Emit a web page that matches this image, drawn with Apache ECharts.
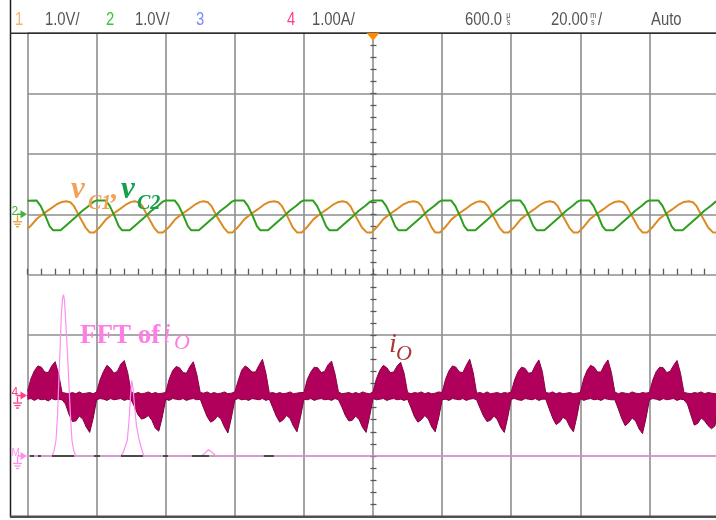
<!DOCTYPE html>
<html><head><meta charset="utf-8">
<script src="https://cdn.jsdelivr.net/npm/echarts@6/dist/echarts.min.js"></script>
<style>html,body{margin:0;padding:0;background:#fff}#c{width:716px;height:520px}</style>
</head><body><div id="c"></div>
<script>
// ---- time axis (ms), 20 ms/div, 10 divisions ----
const timeTicksMs = [0,20,40,60,80,100,120,140,160,180,200];
const voltTicksDiv = [-4,-3,-2,-1,0,1,2,3,4];

// vC1 (V, deviation around its channel marker) : [t ms, value]
const vC1 = [
[0,-0.24],[0.8,-0.20],[2.8,-0.07],[4.6,0.01],[6.6,0.09],[8.6,0.17],[10.0,0.205],[11.2,0.215],[12.4,0.20],[13.4,0.14],[15.2,-0.055],[16.8,-0.22],[18.0,-0.30],[19.4,-0.30],
[20.8,-0.22],[22.8,-0.08],[24.6,0.0],[26.6,0.08],[28.6,0.165],[30.0,0.205],[31.0,0.215],[32.2,0.20],[33.2,0.14],[35.0,-0.055],[36.6,-0.22],[37.8,-0.30],[39.2,-0.30],
[40.8,-0.22],[42.8,-0.08],[44.6,0.0],[46.6,0.08],[48.6,0.165],[50.0,0.205],[51.0,0.215],[52.2,0.20],[53.2,0.14],[55.0,-0.055],[56.8,-0.22],[58.0,-0.30],[59.4,-0.30],
[60.8,-0.22],[62.8,-0.08],[64.6,0.0],[66.6,0.08],[68.6,0.165],[70.0,0.205],[71.4,0.215],[72.6,0.20],[73.6,0.14],[75.4,-0.055],[76.8,-0.22],[78.0,-0.30],[79.4,-0.30],
[80.8,-0.22],[82.8,-0.08],[84.6,0.0],[86.6,0.08],[88.6,0.165],[90.0,0.205],[91.2,0.215],[92.4,0.20],[93.4,0.14],[95.2,-0.055],[96.8,-0.22],[98.2,-0.30],[99.6,-0.30],
[101.0,-0.22],[103.0,-0.08],[104.8,0.0],[106.8,0.08],[108.8,0.165],[110.4,0.205],[111.8,0.215],[113.0,0.20],[114.0,0.14],[115.6,-0.055],[117.0,-0.22],[118.0,-0.30],[119.4,-0.30],
[120.8,-0.22],[122.8,-0.08],[124.6,0.0],[126.6,0.08],[128.6,0.165],[130.0,0.205],[131.0,0.215],[132.2,0.20],[133.2,0.14],[135.0,-0.055],[136.6,-0.22],[137.8,-0.30],[139.2,-0.30],
[140.8,-0.22],[142.8,-0.08],[144.6,0.0],[146.6,0.08],[148.6,0.165],[150.0,0.205],[151.2,0.215],[152.4,0.20],[153.4,0.14],[155.2,-0.055],[156.8,-0.22],[158.0,-0.30],[159.4,-0.30],
[160.8,-0.22],[162.8,-0.08],[164.6,0.0],[166.6,0.08],[168.6,0.165],[170.0,0.205],[171.2,0.215],[172.4,0.20],[173.4,0.14],[175.2,-0.055],[176.8,-0.22],[178.0,-0.30],[179.4,-0.30],
[180.8,-0.22],[182.8,-0.08],[184.6,0.0],[186.6,0.08],[188.6,0.165],[190.0,0.205],[191.4,0.215],[192.6,0.20],[193.6,0.14],[195.4,-0.055],[197.0,-0.22],[198.4,-0.30],[200,-0.30]
];

// vC2 (V) : [t ms, value]
const vC2 = [
[0,0.225],[2.6,0.23],[3.8,0.14],[5.2,-0.03],[6.4,-0.195],[7.4,-0.265],[9.6,-0.265],[11.0,-0.195],[13.8,-0.055],[15.8,0.055],[17.8,0.14],[19.2,0.21],
[20.0,0.23],[22.6,0.23],[23.8,0.14],[25.2,-0.03],[26.4,-0.195],[27.4,-0.265],[29.6,-0.265],[31.0,-0.195],[33.8,-0.055],[35.8,0.055],[37.8,0.14],[39.2,0.21],
[40.0,0.23],[42.6,0.23],[43.8,0.14],[45.2,-0.03],[46.4,-0.195],[47.4,-0.265],[49.6,-0.265],[51.0,-0.195],[53.8,-0.055],[55.8,0.055],[57.8,0.14],[59.2,0.21],
[60.0,0.23],[62.6,0.23],[63.8,0.14],[65.2,-0.03],[66.4,-0.195],[67.4,-0.265],[69.6,-0.265],[71.0,-0.195],[73.8,-0.055],[75.8,0.055],[77.8,0.14],[79.2,0.21],
[80.0,0.23],[82.6,0.23],[83.8,0.14],[85.2,-0.03],[86.4,-0.195],[87.4,-0.265],[89.6,-0.265],[91.0,-0.195],[93.8,-0.055],[95.8,0.055],[97.8,0.14],[99.2,0.21],
[100.0,0.23],[102.6,0.23],[103.8,0.14],[105.2,-0.03],[106.4,-0.195],[107.4,-0.265],[109.6,-0.265],[111.0,-0.195],[113.8,-0.055],[115.8,0.055],[117.8,0.14],[119.2,0.21],
[120.0,0.23],[122.6,0.23],[123.8,0.14],[125.2,-0.03],[126.4,-0.195],[127.4,-0.265],[129.6,-0.265],[131.0,-0.195],[133.8,-0.055],[135.8,0.055],[137.8,0.14],[139.2,0.21],
[140.0,0.23],[142.6,0.23],[143.8,0.14],[145.2,-0.03],[146.4,-0.195],[147.4,-0.265],[149.6,-0.265],[151.0,-0.195],[153.8,-0.055],[155.8,0.055],[157.8,0.14],[159.2,0.21],
[160.0,0.23],[162.6,0.23],[163.8,0.14],[165.2,-0.03],[166.4,-0.195],[167.4,-0.265],[169.6,-0.265],[171.0,-0.195],[173.8,-0.055],[175.8,0.055],[177.8,0.14],[179.2,0.21],
[180.0,0.23],[182.6,0.23],[183.8,0.14],[185.2,-0.03],[186.4,-0.195],[187.4,-0.265],[189.6,-0.265],[191.0,-0.195],[193.8,-0.055],[195.8,0.055],[197.8,0.14],[199.2,0.21],[200,0.23]
];

// iO envelope (A), one sample per ms from 0 to 200 ms
const ioStepMs = 1;
const ioUpper = [
0.07,0.28,0.41,0.49,0.47,0.39,0.38,0.49,0.56,0.36,0.05,0.04,0.03,0.05,0.03,0.06,0.03,0.04,0.05,0.03,
0.06,0.26,0.40,0.50,0.45,0.37,0.40,0.52,0.58,0.38,0.06,0.03,0.05,0.03,0.04,0.06,0.03,0.05,0.03,0.04,
0.05,0.27,0.41,0.48,0.46,0.38,0.37,0.48,0.56,0.35,0.05,0.04,0.06,0.03,0.05,0.03,0.04,0.06,0.03,0.04,
0.06,0.25,0.42,0.49,0.45,0.39,0.39,0.50,0.60,0.37,0.04,0.05,0.03,0.05,0.03,0.04,0.06,0.03,0.04,0.05,
0.05,0.27,0.39,0.47,0.46,0.38,0.40,0.51,0.57,0.36,0.06,0.03,0.04,0.05,0.03,0.05,0.03,0.06,0.04,0.03,
0.06,0.28,0.42,0.50,0.46,0.38,0.39,0.49,0.55,0.37,0.05,0.03,0.05,0.04,0.06,0.03,0.05,0.03,0.04,0.06,
0.05,0.27,0.41,0.49,0.47,0.39,0.38,0.50,0.60,0.38,0.04,0.05,0.03,0.06,0.03,0.04,0.05,0.03,0.05,0.04,
0.06,0.26,0.40,0.47,0.45,0.37,0.38,0.50,0.59,0.40,0.05,0.04,0.06,0.03,0.05,0.03,0.04,0.05,0.03,0.04,
0.05,0.28,0.42,0.50,0.47,0.39,0.39,0.51,0.59,0.38,0.06,0.03,0.05,0.04,0.03,0.06,0.04,0.03,0.05,0.04,
0.05,0.26,0.40,0.47,0.46,0.38,0.40,0.50,0.58,0.37,0.05,0.04,0.03,0.05,0.04,0.06,0.03,0.05,0.04,0.03,
0.05];
const ioLower = [
-0.06,-0.05,-0.08,-0.05,-0.07,-0.06,-0.09,-0.05,-0.07,-0.06,-0.07,-0.14,-0.31,-0.43,-0.42,-0.34,-0.39,-0.52,-0.61,-0.38,
-0.07,-0.05,-0.06,-0.08,-0.05,-0.07,-0.06,-0.05,-0.08,-0.06,-0.07,-0.19,-0.32,-0.39,-0.37,-0.33,-0.41,-0.54,-0.59,-0.36,
-0.06,-0.08,-0.05,-0.06,-0.07,-0.05,-0.08,-0.06,-0.05,-0.07,-0.06,-0.21,-0.35,-0.44,-0.41,-0.34,-0.39,-0.52,-0.62,-0.37,
-0.07,-0.05,-0.07,-0.06,-0.08,-0.05,-0.06,-0.07,-0.05,-0.08,-0.06,-0.20,-0.34,-0.44,-0.40,-0.33,-0.38,-0.51,-0.60,-0.36,
-0.06,-0.07,-0.05,-0.08,-0.06,-0.05,-0.07,-0.06,-0.08,-0.05,-0.07,-0.19,-0.33,-0.42,-0.41,-0.34,-0.40,-0.53,-0.61,-0.35,
-0.05,-0.07,-0.06,-0.05,-0.08,-0.06,-0.05,-0.07,-0.06,-0.08,-0.06,-0.20,-0.35,-0.44,-0.40,-0.33,-0.39,-0.52,-0.60,-0.37,
-0.07,-0.06,-0.08,-0.05,-0.06,-0.07,-0.05,-0.08,-0.06,-0.05,-0.07,-0.21,-0.34,-0.43,-0.41,-0.34,-0.40,-0.53,-0.61,-0.36,
-0.06,-0.05,-0.07,-0.08,-0.05,-0.06,-0.07,-0.05,-0.08,-0.06,-0.06,-0.22,-0.37,-0.48,-0.44,-0.36,-0.40,-0.52,-0.60,-0.35,
-0.05,-0.08,-0.06,-0.05,-0.07,-0.06,-0.08,-0.05,-0.06,-0.07,-0.07,-0.22,-0.38,-0.50,-0.45,-0.37,-0.42,-0.55,-0.63,-0.38,
-0.07,-0.05,-0.06,-0.08,-0.05,-0.07,-0.06,-0.05,-0.08,-0.06,-0.07,-0.14,-0.32,-0.49,-0.46,-0.37,-0.42,-0.50,-0.55,-0.50,
-0.06];

// FFT of iO (div above its baseline), horizontal position in the same ms-divisions
const fftTrace = [
[0,0],[7.09,0],[7.67,0.08],[8.25,0.26],[8.68,0.66],[9.12,1.32],[9.41,1.75],[9.78,2.32],[10.13,2.6],[10.42,2.67],[10.71,2.57],[11.0,2.28],[11.52,1.75],[12.01,1.16],[12.44,0.66],[12.88,0.25],[13.46,0.07],[14.04,0],
[26.97,0],[27.64,0.05],[28.36,0.17],[28.88,0.26],[29.38,0.58],[29.81,0.99],[30.16,1.25],[30.53,1.13],[30.97,0.83],[31.54,0.5],[32.35,0.26],[32.99,0.12],[33.71,0],
[50.29,0],[51.45,0.05],[52.32,0.106],[53.19,0.07],[54.64,0],[200,0]
];
const fftBaseMarks = [[0.72,1.88],[3.04,3.9],[7.09,13.46],[19.24,20.98],[27.06,33.42],[39.21,40.66],[47.6,52.53],[68.4,71.3]];

// channel reference levels (div)
const OFF_VC = 1, OFF_IO = -2, OFF_FFT = -3;

const header = [
  ['1','#f7b266',15],['1.0V/','#555',45],['2','#3cc43c',106],['1.0V/','#555',135],
  ['3','#7b8cf5',196],['4','#ff3d8b',287],['1.00A/','#555',312],
  ['600.0','#555',465],['20.00','#555',551],['/','#555',598],['Auto','#555',651]
];

const chart = echarts.init(document.getElementById('c'), null, {renderer:'canvas'});
const gridLine = {show:true, lineStyle:{color:'#8e8e8e', width:1.6}};
const tickStyle = {color:'#5a5a5a', width:1.3};

const ioUp = ioUpper.map((v,i)=>[i*ioStepMs, v + OFF_IO]);
const ioLo = ioLower.map((v,i)=>[i*ioStepMs, v + OFF_IO]);
const markData = [];
fftBaseMarks.forEach(([a,b])=>{ markData.push([a,OFF_FFT],[b,OFF_FFT],[b,null]); });
const bandFill = '#b1005b';

chart.setOption({
  animation:false,
  backgroundColor:'#ffffff',
  grid:{left:27.5, top:33, width:691, height:483.4, containLabel:false, outerBoundsMode:'none'},
  xAxis:[
    {type:'value', min:timeTicksMs[0], max:timeTicksMs[timeTicksMs.length-1], interval:20,
     axisLine:{show:false}, axisTick:{show:false}, axisLabel:{show:false}, splitLine:gridLine},
    {type:'value', min:0, max:200, interval:20, position:'bottom', offset:-238.7,
     axisLine:{show:false}, axisTick:{show:true, inside:true, length:6, lineStyle:tickStyle},
     minorTick:{show:true, splitNumber:5, length:6, lineStyle:tickStyle},
     axisLabel:{show:false}, splitLine:{show:false}}
  ],
  yAxis:[
    {type:'value', min:voltTicksDiv[0], max:voltTicksDiv[voltTicksDiv.length-1], interval:1,
     axisLine:{show:false}, axisTick:{show:false}, axisLabel:{show:false}, splitLine:gridLine},
    {type:'value', min:-4, max:4, interval:1, position:'left', offset:-343,
     axisLine:{show:false}, axisTick:{show:true, inside:true, length:6, lineStyle:tickStyle},
     minorTick:{show:true, splitNumber:5, length:6, lineStyle:tickStyle},
     axisLabel:{show:false}, splitLine:{show:false}}
  ],
  series:[
    {type:'line', name:'ioUpper', data:ioUp, showSymbol:false,
     lineStyle:{color:'#8c0043', width:1}, areaStyle:{color:bandFill, opacity:1, origin:OFF_IO-0.04}, z:3},
    {type:'line', name:'ioLower', data:ioLo, showSymbol:false,
     lineStyle:{color:'#80003c', width:1}, areaStyle:{color:bandFill, opacity:1, origin:OFF_IO+0.02}, z:3},
    {type:'line', name:'fft', data:fftTrace.map(([x,v])=>[x, v+OFF_FFT]), showSymbol:false,
     lineStyle:{color:'#ff8ef2', width:1.2}, z:4},
    {type:'line', name:'fftMarks', data:markData, showSymbol:false, connectNulls:false,
     lineStyle:{color:'#4a4a4a', width:2}, z:5},
    {type:'line', name:'vC1', data:vC1.map(([t,v])=>[t, v+OFF_VC]), showSymbol:false,
     lineStyle:{color:'#dc8a22', width:2}, z:6},
    {type:'line', name:'vC2', data:vC2.map(([t,v])=>[t, v+OFF_VC]), showSymbol:false,
     lineStyle:{color:'#2e9e1e', width:2}, z:6}
  ]
});

const px = (t,v)=>chart.convertToPixel({gridIndex:0},[t,v]);
const g = [];
// borders
g.push({type:'line', shape:{x1:10.5,y1:0,x2:10.5,y2:517}, style:{stroke:'#1e1e1e', lineWidth:1.5}, z:100});
g.push({type:'line', shape:{x1:10,y1:33.3,x2:716,y2:33.3}, style:{stroke:'#2e2e2e', lineWidth:1.5}, z:100});
g.push({type:'line', shape:{x1:10,y1:516.8,x2:716,y2:516.8}, style:{stroke:'#505050', lineWidth:2.5}, z:100});
// header
header.forEach(([txt,col,x])=>{
  g.push({type:'text', x:x, y:19.5, scaleX:0.78, z:100,
    style:{text:txt, fill:col, fontSize:19, fontFamily:'Liberation Sans', verticalAlign:'middle', align:'left'}});
});
[['µ',506.3,15.2],['s',506.8,23],['m',590.2,15.2],['s',591,23]].forEach(([t,x,y])=>{
  g.push({type:'text', x:x, y:y, scaleX:0.8, z:100,
    style:{text:t, fill:'#555', fontSize:9, fontFamily:'Liberation Sans', verticalAlign:'middle'}});
});
// trigger marker
const trig = px(100, 4);
g.push({type:'polygon', shape:{points:[[trig[0]-6.5,33],[trig[0]+6.5,33],[trig[0],40.5]]}, style:{fill:'#ff8a00'}, z:101});
// channel markers
function marker(yv, label, lcol, acol, gcol, fs){
  const y = px(0, yv)[1];
  g.push({type:'text', x:11.5, y:y-2.5, z:100, style:{text:label, fill:lcol, fontSize:fs||12, fontFamily:'Liberation Sans', verticalAlign:'middle'}});
  g.push({type:'line', shape:{x1:17,y1:y,x2:21,y2:y}, style:{stroke:acol,lineWidth:1.5}, z:100});
  g.push({type:'polygon', shape:{points:[[20.5,y-4],[27,y],[20.5,y+4]]}, style:{fill:acol}, z:100});
  g.push({type:'line', shape:{x1:17.5,y1:y+1,x2:17.5,y2:y+7}, style:{stroke:gcol,lineWidth:1.3}, z:100});
  g.push({type:'line', shape:{x1:13,y1:y+7.5,x2:22,y2:y+7.5}, style:{stroke:gcol,lineWidth:1.3}, z:100});
  g.push({type:'line', shape:{x1:14.5,y1:y+10,x2:20.5,y2:y+10}, style:{stroke:gcol,lineWidth:1.3}, z:100});
  g.push({type:'line', shape:{x1:16,y1:y+12.5,x2:19,y2:y+12.5}, style:{stroke:gcol,lineWidth:1.3}, z:100});
}
marker(OFF_VC, '2', '#3cb43c', '#3cb43c', '#e8a030');
marker(OFF_IO, '4', '#ff3d8b', '#ff3d8b', '#ff3d8b');
marker(OFF_FFT, 'M', '#ff8ef2', '#ff8ef2', '#ff8ef2', 10);

// annotation labels
function lab(txt, x, y, col, fs, style, weight){
  g.push({type:'text', x:x, y:y, z:110, style:{text:txt, fill:col, fontSize:fs, fontFamily:'Liberation Serif',
    fontStyle:style||'normal', fontWeight:weight||'normal', verticalAlign:'middle'}});
}
lab('v', 71, 190, '#f4a058', 31, 'italic', 'bold');
lab('C1', 88, 204, '#f4a058', 20, 'italic', 'bold');
lab(',', 111, 190, '#f4a058', 30, 'italic', 'bold');
lab('v', 121, 190, '#15a04c', 31, 'italic', 'bold');
lab('C2', 137, 204, '#15a04c', 20, 'italic', 'bold');
lab('FFT of', 80, 336, '#ff7ee3', 27, 'normal', 'bold');
lab('i', 163, 335, '#ff7ee3', 28, 'italic');
lab('O', 174, 343, '#ff7ee3', 22, 'italic');
lab('i', 389, 345, '#a53a3a', 28, 'italic');
lab('O', 396, 354, '#a53a3a', 22, 'italic');

chart.setOption({graphic:{elements:g}});
</script></body></html>
